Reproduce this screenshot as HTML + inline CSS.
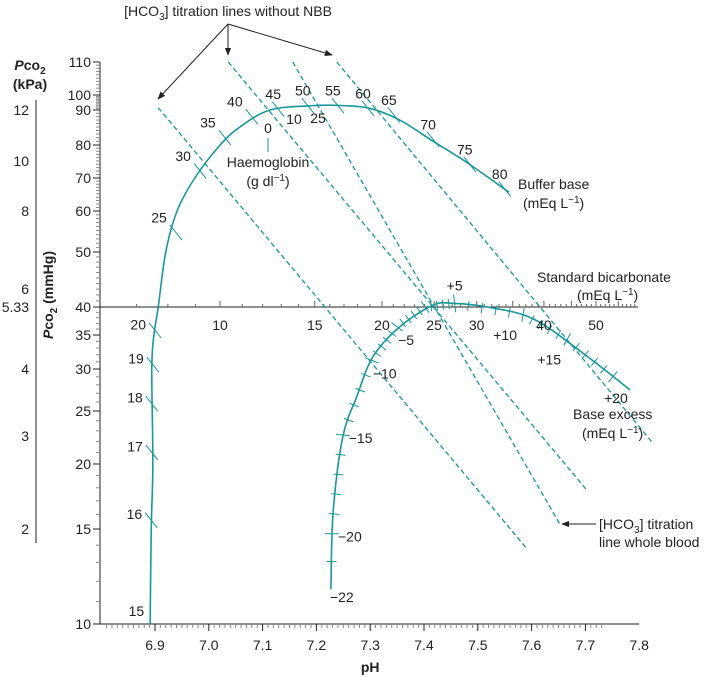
<!DOCTYPE html>
<html><head><meta charset="utf-8"><style>
html,body{margin:0;padding:0;background:#fff;}
svg{display:block;font-family:"Liberation Sans",Arial,sans-serif;}
text{fill:#222;font-size:14px;}
</style></head><body>
<svg id="c" width="711" height="677" viewBox="0 0 711 677">
<defs><marker id="ah" viewBox="0 0 10 10" refX="9" refY="5" markerWidth="8" markerHeight="8" orient="auto"><path d="M0,1 L10,5 L0,9 z" fill="#222"/></marker></defs>
<g id="axes"></g><g id="marks"></g><g id="labels"></g>
</svg>
<script>
// ---- data arrays ----
const yTickVals=[10,15,20,25,30,35,40,50,60,70,80,90,100,110];
const xTickVals=[6.9,7.0,7.1,7.2,7.3,7.4,7.5,7.6,7.7,7.8];
const kpaVals=["12","10","8","6","5.33","4","3","2"];
const kpaMmHg=[90,75,60,43,40,30,22.5,15];
const bbCurvePH=[6.891,6.893,6.896,6.894,6.898,6.906,6.920,6.941,6.974,7.021,7.058,7.114,7.194,7.250,7.300,7.355,7.417,7.480,7.558];
const bbCurveP=[10,15,20,30,35,40,50,60,70,80,85,90,92.8,92.8,91,87,81,74.5,65.5];
const bbTickVals=[16,17,18,19,20,25,30,35,40,45,50,55,60,65,70,75,80];
const bbTickPH=[6.893,6.894,6.894,6.896,6.900,6.939,6.984,7.030,7.080,7.129,7.184,7.240,7.296,7.344,7.417,7.485,7.550];
const bbTickP=[15.6,21,25.8,30.6,35.8,54.5,72,82,88,90.5,92.8,92.8,91,88.5,81.5,74,66.5];
const beCurvePH=[7.227,7.231,7.249,7.275,7.305,7.355,7.417,7.454,7.517,7.603,7.696,7.783];
const beCurveP=[11.6,16.1,22.4,26.6,31.7,36.4,40.3,40.6,40,37.8,32.2,27.4];
const beAnchorVals=[-22,-20,-15,-10,-5,0,5,10,15,20];
const beAnchorPH=[7.227,7.229,7.249,7.303,7.350,7.402,7.457,7.584,7.666,7.751];
const beAnchorP=[11.6,14.7,22.6,31.2,36.4,40,40.6,38.5,34.3,29.0];
const beLabelVals=[-22,-20,-15,-10,-5,5,10,15,20];
const sbLabelVals=[10,15,20,25,30,40,50];
const titrName=["nbb-line-a","nbb-line-b","whole-blood-line","nbb-line-d"];
const titrPH1=[6.906,7.036,7.156,7.238];
const titrP1=[91.5,110,110,110];
const titrPH2=[7.591,7.703,7.653,7.826];
const titrP2=[13.8,17.8,15.3,21.8];
// ---- scales ----
const yAnchY=[624,529,464,411,369,335,307,252,211,178,145,110,95,62];
function Y(p){const L=Math.log10(p);for(let i=0;i<yTickVals.length-1;i++){const a=Math.log10(yTickVals[i]),b=Math.log10(yTickVals[i+1]);if(L<=b||i==yTickVals.length-2){const t=(L-a)/(b-a);return yAnchY[i]+t*(yAnchY[i+1]-yAnchY[i]);}}}
function X(ph){return 155+(ph-6.9)*538;}
const NS="http://www.w3.org/2000/svg";
const TEAL="#17979a";
function mk(tag,attrs,parent){const e=document.createElementNS(NS,tag);for(const k in attrs)e.setAttribute(k,attrs[k]);parent.appendChild(e);return e;}
const axes=document.getElementById('axes'),marks=document.getElementById('marks'),labels=document.getElementById('labels');
function txt(s,x,y,anchor,parent,name,extra){const t=mk('text',{x:x,y:y,'text-anchor':anchor||'start'},parent);t.innerHTML=s;


if(extra)for(const k in extra)t.setAttribute(k,extra[k]);return t;}
function smooth(pts){let d='M'+pts[0][0]+','+pts[0][1];for(let i=0;i<pts.length-1;i++){const p0=pts[i-1]||pts[i],p1=pts[i],p2=pts[i+1],p3=pts[i+2]||p2;
const c1=[p1[0]+(p2[0]-p0[0])/6,p1[1]+(p2[1]-p0[1])/6],c2=[p2[0]-(p3[0]-p1[0])/6,p2[1]-(p3[1]-p1[1])/6];d+=' C'+c1+' '+c2+' '+p2;}return d;}
// ---- y axis ----
const yl=mk('line',{x1:100,y1:Y(110),x2:100,y2:624,stroke:'#222','stroke-width':1},axes);


for(let v=10;v<=110;v++){const y=Y(v);const maj=yTickVals.includes(v);const l=mk('line',{x1:maj?93:96,y1:y,x2:100,y2:y,stroke:maj?'#222':'#888','stroke-width':1},axes);

}
yTickVals.forEach(v=>txt(v,91,Y(v)+5,'end',labels,'y-tick-label'));
// kPa axis
const kl=mk('line',{x1:36,y1:100,x2:36,y2:543,stroke:'#222','stroke-width':1},axes);


kpaVals.forEach((s,i)=>{let y=Y(kpaMmHg[i])+5;txt(s,29,y,'end',labels,'kpa-tick-label');});
txt('<tspan font-style="italic">P</tspan>co<tspan font-size="10" dy="4">2</tspan>',30,70,'middle',labels,'kpa-axis-title',{'font-weight':'bold'});
txt('(kPa)',30,89,'middle',labels,'kpa-axis-unit',{'font-weight':'bold'});
txt('<tspan font-style="italic">P</tspan>co<tspan font-size="10" dy="4">2</tspan><tspan dy="-4"> (mmHg)</tspan>',0,0,'middle',labels,'y-axis-title',{'font-weight':'bold',transform:'translate(53,295) rotate(-90)'});
// ---- x axis ----
const xl=mk('line',{x1:100,y1:624,x2:X(7.8),y2:624,stroke:'#222','stroke-width':1},axes);


for(let i=0;i<=92;i++){const x=X(Math.round((6.81+i*0.01)*100)/100);if(x<101||x>X(7.8)+0.5)continue;const v=Math.round((6.81+i*0.01)*100);const maj=v%10==0;
const l=mk('line',{x1:x,y1:624,x2:x,y2:maj?631:628,stroke:maj?'#222':'#888','stroke-width':1},axes);

}
xTickVals.forEach(v=>txt(v.toFixed(1),X(v),650,'middle',labels,'x-tick-label'));
txt('pH',X(7.3),672,'middle',labels,'x-axis-title',{'font-weight':'bold'});
// ---- standard bicarbonate line ----
const sb=mk('line',{x1:100,y1:Y(40),x2:638,y2:Y(40),stroke:'#222','stroke-width':1},marks);


function sbX(v){return X(6.1+Math.log10(v/1.2));}
for(let v=6;v<=60;v++){const x=sbX(v);if(x<101||x>638)continue;const l=mk('line',{x1:x,y1:307,x2:x,y2:v%5==0?301:304,stroke:'#666','stroke-width':1},marks);

}
sbLabelVals.forEach(v=>txt(v,sbX(v),330,'middle',labels,'std-bicarb-label'));
// ---- titration lines ----
titrName.forEach((n,i)=>{const l=mk('line',{x1:X(titrPH1[i]),y1:Y(titrP1[i]),x2:X(titrPH2[i]),y2:Y(titrP2[i]),stroke:TEAL,'stroke-width':1.3,'stroke-dasharray':'5,3'},marks);

});
// ---- buffer base curve ----
const bbPts=bbCurvePH.map((ph,i)=>[X(ph),Y(bbCurveP[i])]);
const bb=mk('path',{d:smooth(bbPts),fill:'none',stroke:TEAL,'stroke-width':1.6},marks);


bbTickVals.forEach((v,i)=>{const x=X(bbTickPH[i]),y=Y(bbTickP[i]);const dx=6,dy=7.5;
const l=mk('line',{x1:x-dx,y1:y-dy,x2:x+dx,y2:y+dy,stroke:TEAL,'stroke-width':1},marks);


if(bbTickP[i]<50)txt(v,x-9,y-1,'end',labels,'buffer-base-label');
else txt(v,x+(bbTickPH[i]<7.1?-17:-5),y-10,'middle',labels,'buffer-base-label');});
txt('15',X(6.891)-6,616,'end',labels,'buffer-base-label');
// ---- base excess curve ----
const bePts=beCurvePH.map((ph,i)=>[X(ph),Y(beCurveP[i])]);
const be=mk('path',{d:smooth(bePts),fill:'none',stroke:TEAL,'stroke-width':1.6},marks);


for(let v=-21;v<=20;v++){let k=0;while(k<beAnchorVals.length-2&&beAnchorVals[k+1]<v)k++;
const t=(v-beAnchorVals[k])/(beAnchorVals[k+1]-beAnchorVals[k]);
const x1=X(beAnchorPH[k]),y1=Y(beAnchorP[k]),x2=X(beAnchorPH[k+1]),y2=Y(beAnchorP[k+1]);
const x=x1+t*(x2-x1),y=y1+t*(y2-y1);let tx=x2-x1,ty=y2-y1;const L=Math.hypot(tx,ty);tx/=L;ty/=L;
const len=v==5?9:(v%5==0?7:5);
const l=mk('line',{x1:x-ty*len,y1:y+tx*len,x2:x+ty*len,y2:y-tx*len,stroke:TEAL,'stroke-width':1},marks);

}
beLabelVals.forEach(v=>{const i=beAnchorVals.indexOf(v);const x=X(beAnchorPH[i]),y=Y(beAnchorP[i]);const s=(v>0?'+':v<0?'\u2212':'')+Math.abs(v);
if(v==-22)txt(s,x-1,y+13,'start',labels,'base-excess-label');
else if(v<=-15)txt(s,x+6,y+8,'start',labels,'base-excess-label');
else if(v<0)txt(s,x+1,y+18,'start',labels,'base-excess-label');
else if(v==5)txt(s,x,y-13,'middle',labels,'base-excess-label');
else if(v==20)txt(s,x+15,y+26,'end',labels,'base-excess-label');
else txt(s,x-6,y+25,'end',labels,'base-excess-label');});
// ---- haemoglobin ----
txt('0',268,133,'middle',labels,'haemoglobin-label-0');
txt('10',294,124,'middle',labels,'haemoglobin-label-10');
txt('25',318,123,'middle',labels,'haemoglobin-label-25');
const hb=mk('line',{x1:268,y1:138,x2:268,y2:152,stroke:TEAL,'stroke-width':1},marks);


txt('Haemoglobin',268,167,'middle',labels,'haemoglobin-title');
txt('(g dl<tspan font-size="10" dy="-5">\u22121</tspan><tspan dy="5">)</tspan>',268,186,'middle',labels,'haemoglobin-unit');
// ---- annotations ----
txt('[HCO<tspan font-size="10" dy="4">3</tspan><tspan dy="-4">] titration lines without NBB</tspan>',228,16,'middle',labels,'nbb-annotation');
[[158,99],[228,55],[332,55]].forEach(p=>{const a=mk('line',{x1:228,y1:24,x2:p[0],y2:p[1],stroke:'#222','stroke-width':1,'marker-end':'url(#ah)'},labels);

});
const a2=mk('line',{x1:596,y1:524,x2:562,y2:524,stroke:'#222','stroke-width':1,'marker-end':'url(#ah)'},labels);


txt('[HCO<tspan font-size="10" dy="4">3</tspan><tspan dy="-4">] titration</tspan>',599,529,'start',labels,'whole-blood-annotation');
txt('line whole blood',599,547,'start',labels,'whole-blood-annotation-2');
txt('Buffer base',518,189,'start',labels,'buffer-base-title');
txt('(mEq L<tspan font-size="10" dy="-5">\u22121</tspan><tspan dy="5">)</tspan>',523,208,'start',labels,'buffer-base-unit');
txt('Standard bicarbonate',537,282,'start',labels,'std-bicarb-title');
txt('(mEq L<tspan font-size="10" dy="-5">\u22121</tspan><tspan dy="5">)</tspan>',577,300,'start',labels,'std-bicarb-unit');
txt('Base excess',573,419,'start',labels,'base-excess-title');
txt('(mEq L<tspan font-size="10" dy="-5">\u22121</tspan><tspan dy="5">)</tspan>',582,438,'start',labels,'base-excess-unit');
</script>
</body></html>
